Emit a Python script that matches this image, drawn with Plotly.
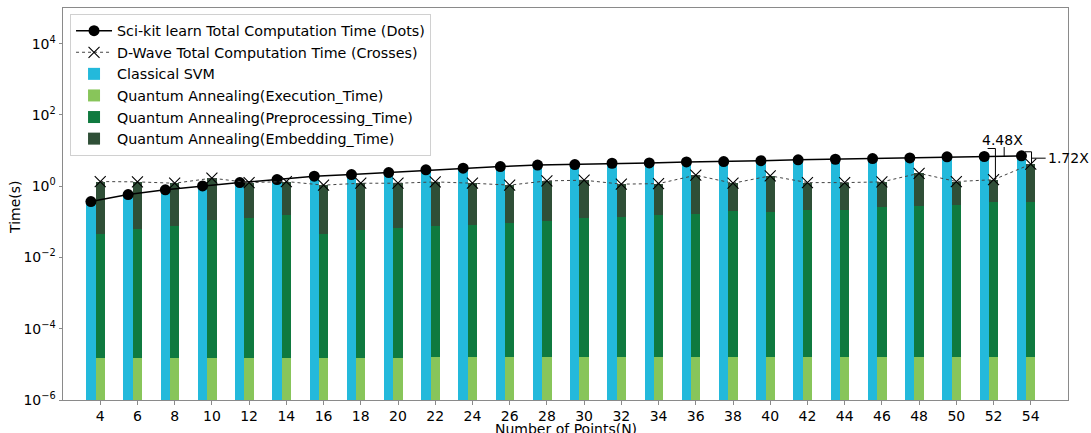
import plotly.graph_objects as go
import math

# ---------------- data ----------------
N = [4, 6, 8, 10, 12, 14, 16, 18, 20, 22, 24, 26, 28, 30, 32, 34, 36, 38, 40, 42, 44, 46, 48, 50, 52, 54]

sklearn_total = [0.37, 0.58, 0.79, 1.02, 1.26, 1.53, 1.91, 2.12, 2.41, 2.87, 3.2, 3.55, 3.9,
                 4.05, 4.4, 4.5, 4.8, 4.9, 5.2, 5.5, 5.7, 5.95, 6.2, 6.65, 6.8, 7.1]
classical_svm = [0.37, 0.58, 0.79, 1.02, 1.26, 1.53, 1.91, 2.12, 2.41, 2.87, 3.2, 3.55, 3.9,
                 4.05, 4.4, 4.5, 4.8, 4.9, 5.2, 5.5, 5.7, 5.95, 6.2, 6.65, 6.8, 7.1]
dwave_total = [1.35, 1.32, 1.21, 1.68, 1.26, 1.35, 1.07, 1.21, 1.21, 1.32, 1.21, 1.07, 1.41,
               1.47, 1.14, 1.18, 2.03, 1.21, 1.95, 1.26, 1.26, 1.32, 2.3, 1.35, 1.52, 4.13]
qa_execution = [1.55e-5, 1.55e-5, 1.55e-5, 1.55e-5, 1.55e-5, 1.55e-5, 1.55e-5, 1.55e-5, 1.55e-5,
                1.56e-5, 1.58e-5, 1.58e-5, 1.57e-5, 1.58e-5, 1.58e-5, 1.58e-5, 1.58e-5, 1.58e-5,
                1.6e-5, 1.6e-5, 1.6e-5, 1.6e-5, 1.6e-5, 1.6e-5, 1.6e-5, 1.6e-5]
qa_preprocessing = [0.047, 0.064, 0.075, 0.113, 0.129, 0.153, 0.047, 0.059, 0.066, 0.075, 0.083,
                    0.093, 0.108, 0.129, 0.137, 0.156, 0.167, 0.198, 0.19, 0.216, 0.22, 0.26,
                    0.27, 0.30, 0.35, 0.35]
qa_embedding = [1.30, 1.26, 1.14, 1.57, 1.13, 1.20, 1.02, 1.15, 1.14, 1.24, 1.13, 0.98, 1.30,
                1.34, 1.00, 1.02, 1.86, 1.01, 1.76, 1.04, 1.04, 1.06, 2.03, 1.05, 1.17, 3.78]

ratio_labels = ["4.48X", "1.72X"]
ratio_index = [24, 25]

ytick_exp = [-6, -4, -2, 0, 2, 4]

# ---------------- style ----------------
FONT = "DejaVu Sans"
C_SVM = "#23b9db"
C_EXEC = "#88c55a"
C_PRE = "#0f7a3f"
C_EMB = "#2f4f37"
SPINE = "#8a8a8a"
BW = 0.5

x_svm = [n - 0.5 for n in N]

fig = go.Figure()

fig.add_trace(go.Scatter(x=x_svm, y=sklearn_total, mode="lines+markers",
                         name="Sci-kit learn Total Computation Time (Dots)", legendgroup="g1",
                         line=dict(color="black", width=1.5),
                         marker=dict(symbol="circle", size=11, color="black")))
fig.add_trace(go.Scatter(x=N, y=dwave_total, mode="lines+markers",
                         name="D-Wave Total Computation Time (Crosses)", legendgroup="g2",
                         line=dict(color="#444444", width=1, dash="dot"),
                         marker=dict(symbol="x-thin", size=11, color="black",
                                     line=dict(color="black", width=1.1))))
fig.add_trace(go.Bar(x=x_svm, y=classical_svm, width=BW, name="Classical SVM", legendgroup="g3",
                     marker=dict(color=C_SVM, line=dict(width=0))))
fig.add_trace(go.Bar(x=N, y=qa_execution, width=BW, name="Quantum Annealing(Execution_Time)",
                     legendgroup="g4", marker=dict(color=C_EXEC, line=dict(width=0))))
fig.add_trace(go.Bar(x=N, y=qa_preprocessing, width=BW, name="Quantum Annealing(Preprocessing_Time)",
                     legendgroup="g5", marker=dict(color=C_PRE, line=dict(width=0))))
fig.add_trace(go.Bar(x=N, y=qa_embedding, width=BW, name="Quantum Annealing(Embedding_Time)",
                     legendgroup="g6", marker=dict(color=C_EMB, line=dict(width=0))))

# ---------------- ratio brackets (annotation decorations) ----------------
annotations = []
bracket_cfg = [
    dict(spine_dx=0.1, tick_dx=-0.42, top_mult=1.68, text_dx=0.5, text_mult=2.95,
         conn_dx=0.57, conn_top_mult=1.85, conn_mult=1.0, text_anchor="center"),
    dict(spine_dx=0.04, tick_dx=-0.36, top_mult=1.30, text_dx=0.8, text_mult=0.873,
         conn_dx=0.8, conn_top_mult=None, conn_mult=0.86, text_anchor="left"),
]
for lab, idx, cfg in zip(ratio_labels, ratio_index, bracket_cfg):
    n = N[idx]
    top = sklearn_total[idx] * cfg["top_mult"]
    bot = dwave_total[idx]
    sx = n + cfg["spine_dx"]
    fig.add_trace(go.Scatter(x=[sx + cfg["tick_dx"], sx, sx], y=[top, top, bot], mode="lines",
                             line=dict(color="black", width=1), showlegend=False, hoverinfo="skip"))
    cy = sklearn_total[idx] * cfg["conn_mult"]
    if cfg["conn_top_mult"] is not None:
        cx = n + cfg["conn_dx"]
        fig.add_trace(go.Scatter(x=[cx, cx, sx], y=[sklearn_total[idx] * cfg["conn_top_mult"], cy, cy],
                                 mode="lines", line=dict(color="black", width=1),
                                 showlegend=False, hoverinfo="skip"))
    else:
        fig.add_trace(go.Scatter(x=[sx, n + cfg["conn_dx"]], y=[cy, cy], mode="lines",
                                 line=dict(color="black", width=1),
                                 showlegend=False, hoverinfo="skip"))
    annotations.append(dict(x=n + cfg["text_dx"], y=math.log10(sklearn_total[idx] * cfg["text_mult"]),
                            xref="x", yref="y", text=lab, showarrow=False,
                            xanchor=cfg["text_anchor"], yanchor="middle",
                            font=dict(family=FONT, size=14, color="black")))

# axis titles
annotations.append(dict(x=0.5, y=-0.073, xref="paper", yref="paper", text="Number of Points(N)",
                        showarrow=False, xanchor="center", yanchor="middle",
                        font=dict(family=FONT, size=14, color="black")))
annotations.append(dict(x=-0.0477, y=0.49, xref="paper", yref="paper", text="Time(s)",
                        showarrow=False, textangle=-90, xanchor="center", yanchor="middle",
                        font=dict(family=FONT, size=14, color="black")))

ytext = ["10<sup>%s</sup>" % (str(e).replace("-", "\u2212")) for e in ytick_exp]

fig.update_layout(
    width=1091, height=433,
    margin=dict(l=63, r=23, t=8, b=33, autoexpand=False),
    paper_bgcolor="white", plot_bgcolor="white",
    barmode="stack", bargap=0,
    font=dict(family=FONT, size=14, color="black"),
    showlegend=True,
    legend=dict(x=0.007, y=0.985, xanchor="left", yanchor="top",
                bgcolor="rgba(255,255,255,0.9)", bordercolor="#d0d0d0", borderwidth=1,
                font=dict(family=FONT, size=14.3, color="black"), traceorder="grouped",
                tracegroupgap=0, itemwidth=36),
    annotations=annotations,
    xaxis=dict(range=[2.0, 56.0], tickmode="array", tickvals=N, ticktext=[str(n) for n in N],
               showgrid=False, zeroline=False, showline=True, linecolor=SPINE, linewidth=1,
               mirror=True, ticks="outside", ticklen=3.5, tickcolor=SPINE,
               tickfont=dict(family=FONT, size=14, color="black")),
    yaxis=dict(type="log", range=[-6, 5], tickmode="array",
               tickvals=[10 ** e for e in ytick_exp], ticktext=ytext,
               showgrid=False, zeroline=False, showline=True, linecolor=SPINE, linewidth=1,
               mirror=True, ticks="outside", ticklen=3.5, tickcolor=SPINE,
               tickfont=dict(family=FONT, size=14, color="black")),
)

fig.write_html("out.html", config={"displayModeBar": False},
               post_script="document.body.style.margin='0';document.body.style.padding='0';")
